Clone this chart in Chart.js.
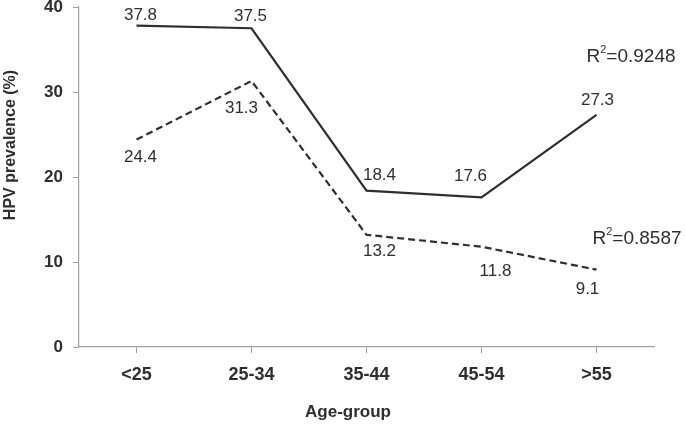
<!DOCTYPE html>
<html>
<head>
<meta charset="utf-8">
<script src="https://cdn.jsdelivr.net/npm/chart.js@4.4.0/dist/chart.umd.min.js"></script>
<style>
  html, body { margin: 0; padding: 0; background: #ffffff; }
  #chart-container { width: 685px; height: 424px; position: relative; }
</style>
</head>
<body>
<div id="chart-container"><canvas id="chart"></canvas></div>
<script>
// Chart data
const ageGroups = ['<25', '25-34', '35-44', '45-54', '>55'];
const solidValues = [37.8, 37.5, 18.4, 17.6, 27.3];
const dashedValues = [24.4, 31.3, 13.2, 11.8, 9.1];
const yTicks = [0, 10, 20, 30, 40];
const r2Values = ['0.9248', '0.8587'];
const yTitle = 'HPV prevalence (%)';
const xTitle = 'Age-group';

const textColor = '#2e2e2e';
const lineColor = '#2f2f2f';
const axisColor = '#a0a0a0';
const fontFamily = 'Arial, "Liberation Sans", Helvetica, sans-serif';

// Value label offsets (px) per point, relative to the point: [dx, dy]
const solidLabelOffsets = [[4, -10], [-1, -12], [13, -15], [-11, -21], [1, -15]];
const dashedLabelOffsets = [[4, 18], [-10, 27], [13, 17], [14, 25], [-9, 20]];

// Draws value labels, R² notes and axis titles
const annotationsPlugin = {
  id: 'annotations',
  afterDraw(chart) {
    const ctx = chart.ctx;
    const x = chart.scales.x;
    const y = chart.scales.y;

    ctx.save();
    ctx.fillStyle = textColor;
    ctx.textAlign = 'center';
    ctx.textBaseline = 'middle';
    ctx.font = '17px ' + fontFamily;

    function drawLabels(values, offsets) {
      values.forEach((v, i) => {
        const px = x.getPixelForValue(i) + offsets[i][0];
        const py = y.getPixelForValue(v) + offsets[i][1];
        ctx.fillText(v.toFixed(1), px, py);
      });
    }
    drawLabels(solidValues, solidLabelOffsets);
    drawLabels(dashedValues, dashedLabelOffsets);

    // R² notes
    function drawR2(value, left, baseline) {
      ctx.textAlign = 'left';
      ctx.textBaseline = 'alphabetic';
      ctx.font = '19px ' + fontFamily;
      ctx.fillText('R', left, baseline);
      let w = ctx.measureText('R').width;
      ctx.font = '11px ' + fontFamily;
      ctx.fillText('2', left + w, baseline - 9);
      w += ctx.measureText('2').width;
      ctx.font = '19px ' + fontFamily;
      ctx.fillText('=' + value, left + w, baseline);
    }
    const lastX = x.getPixelForValue(ageGroups.length - 1);
    drawR2(r2Values[0], lastX - 10, y.getPixelForValue(33.5));
    drawR2(r2Values[1], lastX - 4, y.getPixelForValue(12.1));

    // Axis titles
    ctx.font = 'bold 17px ' + fontFamily;
    ctx.textAlign = 'center';
    ctx.textBaseline = 'middle';
    ctx.fillText(xTitle, 348, 412);

    ctx.font = 'bold 16px ' + fontFamily;
    ctx.translate(11, 145);
    ctx.rotate(-Math.PI / 2);
    ctx.fillText(yTitle, 0, 0);
    ctx.restore();
  }
};

function renderChart() {
  const canvas = document.getElementById('chart');
  new Chart(canvas, {
    type: 'line',
    data: {
      labels: ageGroups,
      datasets: [
        {
          label: 'Solid',
          data: solidValues,
          borderColor: lineColor,
          borderWidth: 2.2,
          pointRadius: 0,
          tension: 0,
          fill: false
        },
        {
          label: 'Dashed',
          data: dashedValues,
          borderColor: lineColor,
          borderWidth: 2.2,
          borderDash: [7, 4],
          pointRadius: 0,
          tension: 0,
          fill: false
        }
      ]
    },
    options: {
      responsive: true,
      maintainAspectRatio: false,
      animation: false,
      layout: {
        padding: { top: 7, right: 31, bottom: 0, left: 0 }
      },
      plugins: {
        legend: { display: false },
        tooltip: { enabled: false }
      },
      scales: {
        x: {
          offset: true,
          grid: {
            display: true,
            drawOnChartArea: false,
            drawTicks: true,
            tickLength: 6,
            color: axisColor
          },
          border: { display: true, color: axisColor, width: 1.2 },
          ticks: {
            color: textColor,
            padding: 11,
            font: { family: fontFamily, size: 18, weight: 'bold' }
          },
          afterFit(scale) {
            scale.height = 77;
          }
        },
        y: {
          min: 0,
          max: 40,
          afterBuildTicks(scale) {
            scale.ticks = yTicks.map(v => ({ value: v }));
          },
          grid: {
            display: true,
            drawOnChartArea: false,
            drawTicks: true,
            tickLength: 6,
            color: axisColor
          },
          border: { display: true, color: axisColor, width: 1.2 },
          ticks: {
            color: textColor,
            padding: 10,
            font: { family: fontFamily, size: 17, weight: 'bold' }
          },
          afterFit(scale) {
            scale.width = 79;
            scale.paddingTop = 0;
            scale.paddingBottom = 0;
          }
        }
      }
    },
    plugins: [annotationsPlugin]
  });
}

window.addEventListener('load', renderChart);
</script>
</body>
</html>
